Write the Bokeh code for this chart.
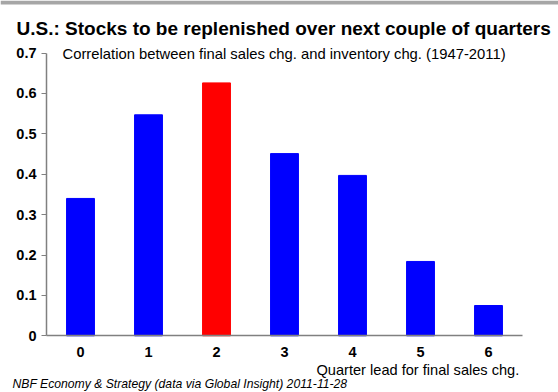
from bokeh.plotting import figure
from bokeh.models import Range1d, FixedTicker, Label, BoxAnnotation, ColumnDataSource
from bokeh.embed import file_html
from bokeh.resources import INLINE

# ---- data ----
quarters = [0, 1, 2, 3, 4, 5, 6]
correlation = [0.34, 0.547, 0.626, 0.451, 0.397, 0.184, 0.075]
highlight = 2
y_ticks = [0, 0.1, 0.2, 0.3, 0.4, 0.5, 0.6, 0.7]
y_tick_labels = ["0", "0.1", "0.2", "0.3", "0.4", "0.5", "0.6", "0.7"]
x_tick_labels = ["0", "1", "2", "3", "4", "5", "6"]

title_text = "U.S.: Stocks to be replenished over next couple of quarters"
subtitle_text = "Correlation between final sales chg. and inventory chg. (1947-2011)"
xlabel_text = "Quarter lead for final sales chg."
footer_text = "NBF Economy & Strategy (data via Global Insight) 2011-11-28"

FONT = "Liberation Sans"
W, H = 558, 392

# ---- pixel layout -> data ranges (frame covers the whole canvas) ----
X0_PX, X_STEP = 80.0, 68.0       # page x of category 0, px per category
Y0_PX, Y_SCALE = 335.3, 404.0    # page y of value 0, px per unit
x_range = Range1d(-X0_PX / X_STEP, (W - X0_PX) / X_STEP)
y_range = Range1d(-(H - Y0_PX) / Y_SCALE, Y0_PX / Y_SCALE)

colors = ["#ff0000" if q == highlight else "#0000ff" for q in quarters]
src = ColumnDataSource(dict(q=quarters, v=correlation, c=colors))

p = figure(width=W, height=H, x_range=x_range, y_range=y_range,
           output_backend="svg", toolbar_location=None,
           min_border=0, min_border_left=0, min_border_right=0,
           min_border_top=0, min_border_bottom=0)
p.vbar(x="q", top="v", width=0.41, color="c", source=src)

p.xgrid.visible = False
p.ygrid.visible = False
p.outline_line_color = None
p.background_fill_color = "white"
p.border_fill_color = "white"

n = len(quarters)
ya = p.yaxis[0]
ya.fixed_location = -0.5
ya.bounds = (y_ticks[0], y_ticks[-1])
ya.ticker = FixedTicker(ticks=y_ticks)
ya.major_label_overrides = {t: l for t, l in zip(y_ticks, y_tick_labels)}
ya.major_tick_in = 0
ya.major_tick_out = 5
ya.minor_tick_line_color = None
ya.major_label_standoff = 5

xa = p.xaxis[0]
xa.fixed_location = 0
xa.bounds = (-0.5, n - 0.5)
xa.ticker = FixedTicker(ticks=quarters)
xa.major_label_overrides = {q: l for q, l in zip(quarters, x_tick_labels)}
xa.minor_tick_line_color = None
xa.major_tick_out = 0
xa.major_tick_in = 0
xa.major_label_standoff = 11

for ax in (xa, ya):
    ax.axis_line_color = "#808080"
    ax.axis_line_width = 1.5
    ax.major_tick_line_color = "#808080" if ax is ya else None
    ax.major_label_text_font = FONT
    ax.major_label_text_font_style = "bold"
    ax.major_label_text_font_size = "14.5px"
    ax.major_label_text_color = "black"

# top grey band
p.add_layout(BoxAnnotation(left=x_range.start, right=x_range.end,
                           top=y_range.end, bottom=y_range.end - 4 / Y_SCALE,
                           fill_color="#a6a6a6", fill_alpha=1, line_color=None))

def add_text(txt, px, py, size, style="normal"):
    p.add_layout(Label(x=px, y=H - py, x_units="screen", y_units="screen", text=txt,
                       text_font=FONT, text_font_size=size, text_font_style=style,
                       text_color="black", text_align="left", text_baseline="alphabetic"))

add_text(title_text, 16, 28, "19px", "bold")
add_text(subtitle_text, 62, 53, "14.8px")
add_text(xlabel_text, 316, 369, "14.6px")
add_text(footer_text, 12, 383, "12.2px", "italic")

open("out.html", "w").write(file_html(p, INLINE))
